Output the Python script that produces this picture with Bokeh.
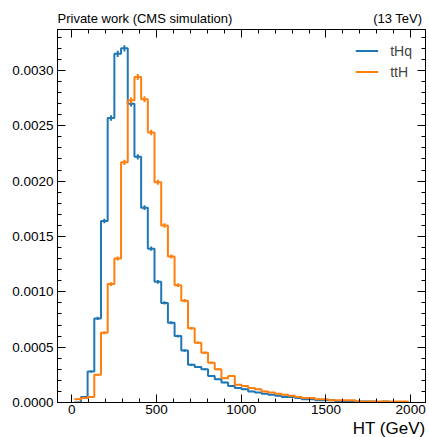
import numpy as np
from bokeh.plotting import figure
from bokeh.models import (Range1d, LinearAxis, Legend, LegendItem, Title,
                          SingleIntervalTicker, NumeralTickFormatter,
                          CustomJSTickFormatter)
from bokeh.embed import file_html
from bokeh.resources import INLINE

# ---------------- data ----------------
ht_min, ht_max, n_bins = 14.0, 1989.0, 50   # HT binning (GeV)

tHq = [0.00000, 0.00005, 0.00028, 0.00076, 0.00164, 0.00257, 0.00315, 0.00320,
       0.00270, 0.00222, 0.00176, 0.00139, 0.00109, 0.00090, 0.00072, 0.00060,
       0.00047, 0.00034, 0.00032, 0.00030, 0.00024, 0.00021, 0.00018, 0.00015,
       0.00013, 0.00012, 0.00010, 0.00009, 0.00008, 0.00007, 0.00006, 0.00005,
       0.00005, 0.00004, 0.00003, 0.00003, 0.00002, 0.00002, 0.00002, 0.00001,
       0.00001, 0.00001, 0.00001, 0.00001, 0.00001, 0.00000, 0.00001, 0.00000,
       0.00000, 0.00000]

ttH = [0.00003, 0.00004, 0.00005, 0.00025, 0.00063, 0.00107, 0.00130, 0.00217,
       0.00273, 0.00294, 0.00274, 0.00244, 0.00199, 0.00160, 0.00132, 0.00106,
       0.00092, 0.00067, 0.00054, 0.00045, 0.00036, 0.00030, 0.00022, 0.00024,
       0.00016, 0.00015, 0.00013, 0.00012, 0.00010, 0.00009, 0.00008, 0.00007,
       0.00006, 0.00005, 0.00004, 0.00004, 0.00003, 0.00003, 0.00002, 0.00002,
       0.00002, 0.00002, 0.00001, 0.00001, 0.00001, 0.00001, 0.00001, 0.00001,
       0.00001, 0.00001]

series_names = ["tHq", "ttH"]
series_colors = ["#1f77b4", "#ff7f0e"]
n_events = 100000  # assumed sample size for statistical error bars

header_left = "Private work (CMS simulation)"
header_right = "(13 TeV)"
x_label = "HT (GeV)"

edges = np.linspace(ht_min, ht_max, n_bins + 1)
span = ht_max - ht_min
x_lo, x_hi = ht_min - 0.05 * span, ht_max + 0.05 * span
y_lo, y_hi = 0.0, 0.00337

FONT = "Liberation Sans"

p = figure(width=429, height=437, output_backend="svg", toolbar_location=None,
           x_range=Range1d(x_lo, x_hi), y_range=Range1d(y_lo, y_hi),
           min_border_left=57, min_border_right=4, min_border_top=29,
           min_border_bottom=34, background_fill_color="white",
           border_fill_color="white")
p.grid.visible = False
p.outline_line_color = "black"
p.outline_line_width = 1

xt = SingleIntervalTicker(interval=500, num_minor_ticks=5)
yt = SingleIntervalTicker(interval=0.0005, num_minor_ticks=5)

def style_axis(ax):
    ax.major_tick_in = 8
    ax.major_tick_out = 0
    ax.minor_tick_in = 4
    ax.minor_tick_out = 0
    ax.axis_line_color = "black"
    ax.major_tick_line_color = "black"
    ax.minor_tick_line_color = "black"
    ax.major_label_text_font = FONT
    ax.major_label_text_font_size = "13.5px"
    ax.major_label_text_color = "black"

p.xaxis.ticker = xt
p.yaxis.ticker = yt
p.yaxis.formatter = NumeralTickFormatter(format="0.0000")
style_axis(p.xaxis[0])
style_axis(p.yaxis[0])
p.xaxis.major_label_standoff = 2
p.yaxis.major_label_standoff = 4

blank = CustomJSTickFormatter(code="return ''")
top_ax = LinearAxis(ticker=xt, formatter=blank)
style_axis(top_ax)
top_ax.major_label_standoff = 0
p.add_layout(top_ax, "above")
right_ax = LinearAxis(ticker=yt, formatter=blank)
style_axis(right_ax)
right_ax.major_label_standoff = 0
p.add_layout(right_ax, "right")

centers = 0.5 * (edges[:-1] + edges[1:])
widths = np.diff(edges)

items = []
for name, vals, col in zip(series_names, [tHq, ttH], series_colors):
    v = np.array(vals)
    xs = np.repeat(edges, 2)[1:-1]
    ys = np.repeat(v, 2)
    r = p.line(xs, ys, line_color=col, line_width=2)
    err = np.sqrt(v / (n_events * widths))
    p.segment(x0=centers, y0=v - err, x1=centers, y1=v + err,
              line_color=col, line_width=2)
    items.append(LegendItem(label=name, renderers=[r]))

legend = Legend(items=items, location="top_right", margin=13, padding=0,
                spacing=4, glyph_width=23, glyph_height=17, label_height=17,
                label_standoff=12, label_text_font=FONT,
                label_text_font_size="14px", border_line_color=None,
                background_fill_alpha=0)
p.add_layout(legend)

# header line: left and right texts on one line (non-breaking spaces keep the gap)
gap = "\u00a0" * 39
p.add_layout(Title(text=header_left + gap + header_right, align="left",
                   text_font=FONT, text_font_size="13px", text_font_style="normal",
                   text_color="black", standoff=8), "above")
p.add_layout(Title(text=x_label, align="right", text_font=FONT,
                   text_font_size="17px", text_font_style="normal",
                   text_color="black", standoff=0), "below")

open("out.html", "w").write(file_html(p, INLINE))
